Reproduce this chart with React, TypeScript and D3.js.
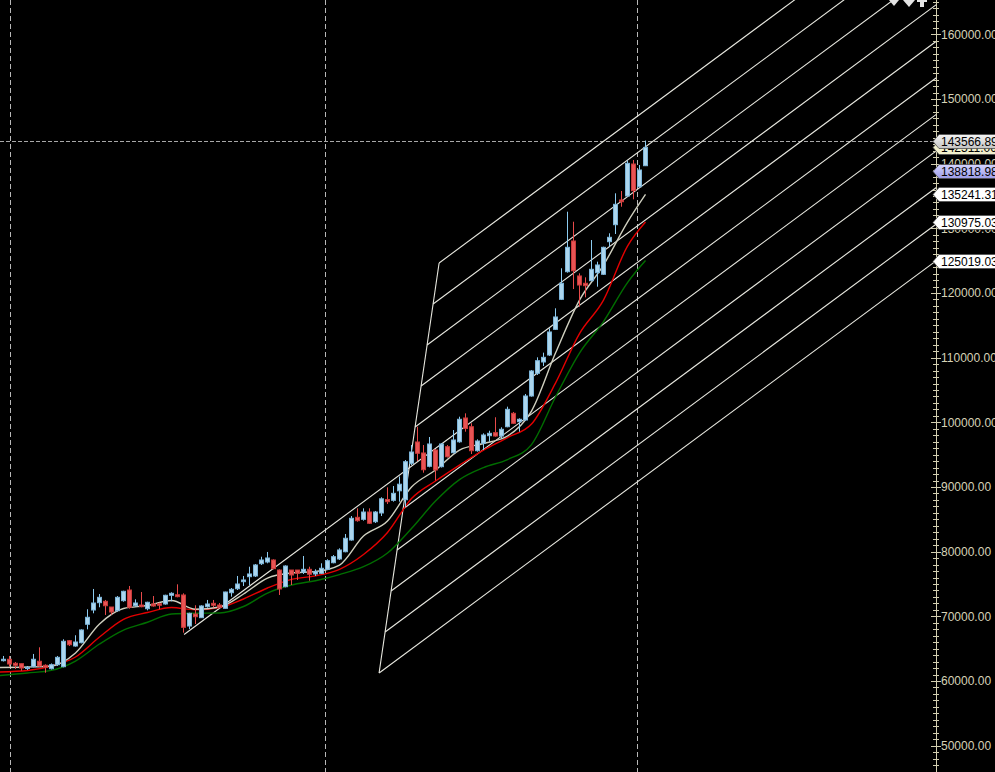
import React, { useEffect } from 'react';
import * as d3 from 'd3';

const W = 995;
const H = 772;

// ---- candle data (bar index 0..107) ----
const opens = [
  63140, 63360, 62740, 62680, 61930, 62210, 63050, 62430, 61900, 62520,
  62210, 66230, 65410, 65920, 68770, 70980, 72110, 72320, 71440, 70870,
  72420, 74070, 71640, 71750, 71180, 71910, 71950, 71910, 73250, 73340,
  73300, 68500, 70360, 69790, 71490, 72010, 71750, 71240, 73650, 74270,
  75360, 76130, 76240, 78140, 78400, 78710, 77160, 74580, 77160, 77160,
  76850, 77270, 76550, 76650, 77270, 78290, 78870, 79990, 81800, 85310,
  85000, 86130, 84630, 85980, 88070, 87940, 89410, 88030, 93660, 96960,
  95260, 93200, 95720, 93140, 96230, 95300, 96990, 100670, 99320, 95610,
  96760, 97930, 98400, 97880, 99320, 101390, 100100, 100360, 104070, 107580,
  109330, 110410, 114380, 119020, 123290, 128040, 122630, 121500, 121900, 123140,
  122890, 127930, 130560, 134380, 135000, 139940, 136430, 139680,
];
const highs = [
  63870, 63870, 62940, 62700, 62320, 64180, 65210, 62580, 62710, 63870,
  66450, 66340, 67070, 67990, 71090, 74230, 73450, 72530, 71440, 73140,
  73960, 74690, 72630, 73760, 72260, 73140, 72110, 73340, 73720, 74950,
  73560, 70560, 71710, 71710, 72530, 72530, 72060, 73810, 74380, 76240,
  76240, 77670, 78090, 79220, 79950, 78820, 77270, 77890, 77160, 77160,
  79330, 77670, 77270, 78200, 78820, 79480, 80520, 82730, 85510, 86700,
  86700, 86700, 86290, 88410, 89950, 90150, 91620, 94170, 96490, 99320,
  96490, 97730, 95870, 96800, 96490, 98810, 100870, 101390, 99850, 97370,
  98300, 98700, 100780, 99230, 102420, 101600, 100620, 104380, 108090, 110050,
  110770, 114540, 117630, 123820, 132570, 131020, 123040, 122420, 128190, 124840,
  127160, 129230, 135410, 135770, 140450, 140560, 139790, 143567,
];
const lows = [
  63020, 62210, 61860, 61590, 61700, 62120, 62210, 61280, 61780, 62320,
  62120, 65410, 65300, 65830, 67990, 70470, 71400, 70210, 70250, 70720,
  72260, 71180, 71490, 71400, 70930, 71490, 71090, 71800, 72320, 72940,
  67470, 68040, 68810, 69740, 71330, 71400, 71290, 71210, 73040, 74070,
  74690, 74800, 76080, 77940, 78200, 77270, 73300, 74490, 74840, 75620,
  76550, 75510, 76240, 76550, 77160, 78200, 78710, 79900, 81690, 84630,
  84790, 84280, 84430, 85510, 87370, 87730, 87730, 86910, 93400, 94020,
  92210, 93040, 91000, 93010, 94560, 95210, 96850, 98550, 95100, 95460,
  95720, 97000, 97780, 97530, 99230, 99740, 98550, 100200, 103960, 107320,
  108710, 110260, 114280, 118910, 123140, 120610, 117880, 119330, 121810, 120970,
  122780, 127160, 129120, 133340, 134890, 134490, 136340, 139630,
];
const closes = [
  63360, 62630, 62430, 62010, 62090, 63360, 62320, 62120, 62520, 63660,
  66140, 65610, 66030, 67890, 69850, 72060, 72940, 71640, 70670, 72940,
  73870, 71400, 72060, 71490, 72170, 71600, 71710, 73250, 73560, 73040,
  68300, 70470, 69940, 71600, 71910, 71710, 71400, 73760, 74180, 75000,
  75620, 76550, 77940, 78710, 79020, 77370, 74230, 77780, 76390, 76650,
  77270, 76500, 76900, 77430, 78600, 79220, 80260, 82070, 85160, 84790,
  86130, 84390, 86130, 88170, 87730, 89020, 90430, 93910, 95410, 95210,
  92670, 96650, 92630, 96650, 94680, 97270, 100470, 99040, 95610, 97110,
  98040, 98300, 97880, 98920, 102010, 99850, 100470, 104070, 107940, 109530,
  110050, 113970, 116290, 121500, 127060, 123440, 121230, 121130, 123660, 124330,
  127060, 128610, 133710, 134110, 140050, 135820, 139020, 142511,
];

// ---- moving averages, read at these bar indices ----
const maIdx = [-0.6, 4, 8, 12, 16, 20, 24, 28, 32, 36, 40, 44, 48, 52, 56, 60, 64, 68, 72, 76, 80, 84, 88, 92, 96, 100, 104, 107];
const maFast = [62090, 62160, 62320, 64330, 68810, 71210, 71670, 72450, 71090, 71440, 73450, 75920, 76700, 76930, 77930, 82420, 84740, 89990, 92620, 95710, 96720, 97880, 101740, 110710, 118900, 124310, 130960, 135241.31];
const maMid = [61390, 61620, 62320, 63710, 66800, 69540, 70590, 71360, 71010, 71360, 72680, 74380, 75720, 76260, 77270, 79560, 82960, 88210, 90920, 93390, 95710, 97650, 99730, 106070, 113720, 118900, 127250, 130975.03];
const maSlow = [60850, 61240, 61650, 63090, 65720, 67880, 69080, 70360, 70480, 70510, 71520, 73600, 74840, 75510, 76460, 77670, 79790, 83580, 87830, 91150, 93010, 94240, 96560, 103910, 110710, 115580, 121610, 125019.03];

// ---- axis ----
const yTicks = [50000, 60000, 70000, 80000, 90000, 100000, 110000, 120000, 130000, 140000, 150000, 160000];
const tagValues = [125019.03, 130975.03, 135241.31, 138818.98, 142511.06, 143566.89];
const tagColors = ['#ffffff', '#ffffff', '#ffffff', '#b4b4f4', '#f2f0cc', '#dcdcdc'];

// ---- separators / price line ----
const periodSeparators = [1.15, 53.5, 105.5];
const bidPrice = 143566.89;

// ---- channel (fork) tool ----
const forkLowIdx = 62.6;
const forkLowPrice = 61240;
const forkStepIdx = 1.0;
const forkStepPrice = 6340;
const forkCount = 11;
const forkSlope = 686.6; // price per bar
const medianLine = 5;
const medianStartIdx = 30.1;

export default function App() {
  useEffect(() => {
    document.body.style.margin = '0';
    document.body.style.background = '#000';
    document.body.style.overflow = 'hidden';
  }, []);

  const plotRight = 936;
  const x = d3.scaleLinear().domain([0, 107]).range([3.5, 645.5]);
  const y = d3.scaleLinear().domain([60000, 160000]).range([681, 34.3]);
  const idxRight = x.invert(plotRight + 5);

  const makeLine = (vals: number[]) =>
    d3
      .line<number>()
      .x((_, j) => x(maIdx[j]))
      .y((d) => y(d))
      .curve(d3.curveMonotoneX)(vals) || '';

  const forkLines = d3.range(forkCount).map((k) => {
    const i0 = forkLowIdx + k * forkStepIdx;
    const v0 = forkLowPrice + k * forkStepPrice;
    const iStart = k === medianLine ? medianStartIdx : i0;
    const vStart = v0 + forkSlope * (iStart - i0);
    const vEnd = v0 + forkSlope * (idxRight - i0);
    return { x1: x(iStart), y1: y(vStart), x2: x(idxRight), y2: y(vEnd) };
  });
  const baseTop = forkLowIdx + (forkCount - 1) * forkStepIdx;
  const baseTopPrice = forkLowPrice + (forkCount - 1) * forkStepPrice;

  const minorTicks = d3.range(45000, 166000, 1000);
  const font = '"Liberation Sans", Arial, sans-serif';

  return (
    <svg
      width={W}
      height={H}
      style={{ position: 'absolute', left: 0, top: 0, background: '#000', display: 'block' }}
    >
      <defs>
        <clipPath id="plot">
          <rect x={0} y={0} width={plotRight} height={H} />
        </clipPath>
        <linearGradient id="gGrey" x1="0" y1="0" x2="0" y2="1">
          <stop offset="0" stopColor="#f4f4f4" />
          <stop offset="1" stopColor="#c4c4c4" />
        </linearGradient>
        <linearGradient id="gLav" x1="0" y1="0" x2="0" y2="1">
          <stop offset="0" stopColor="#d4d4ff" />
          <stop offset="1" stopColor="#9c9ce8" />
        </linearGradient>
      </defs>
      <rect x={0} y={0} width={W} height={H} fill="#000" />

      <g clipPath="url(#plot)">
        {periodSeparators.map((p, i) => (
          <line
            key={'vs' + i}
            x1={Math.round(x(p)) + 0.5}
            x2={Math.round(x(p)) + 0.5}
            y1={0}
            y2={H}
            stroke="#b8b8b8"
            strokeDasharray="5,3"
          />
        ))}
        <line
          x1={0}
          x2={plotRight}
          y1={Math.round(y(bidPrice)) + 0.5}
          y2={Math.round(y(bidPrice)) + 0.5}
          stroke="#a8a8a8"
          strokeDasharray="4,2"
        />

        {/* channel tool */}
        <line
          x1={x(forkLowIdx)}
          y1={y(forkLowPrice)}
          x2={x(baseTop)}
          y2={y(baseTopPrice)}
          stroke="#e8e8e0"
          strokeWidth={1.1}
        />
        {forkLines.map((l, k) => (
          <line key={'f' + k} {...l} stroke="#e8e8e0" strokeWidth={1.1} />
        ))}

        {/* moving averages */}
        <path d={makeLine(maSlow)} fill="none" stroke="#006e00" strokeWidth={1.4} />
        <path d={makeLine(maMid)} fill="none" stroke="#e40000" strokeWidth={1.4} />
        <path d={makeLine(maFast)} fill="none" stroke="#cfcfbf" strokeWidth={1.4} />

        {/* candles */}
        {opens.map((o, i) => {
          const c = closes[i];
          const up = c >= o;
          const cx = x(i);
          const top = y(Math.max(o, c));
          const bot = y(Math.min(o, c));
          return (
            <g key={'c' + i}>
              <line
                x1={cx}
                x2={cx}
                y1={y(highs[i])}
                y2={y(lows[i])}
                stroke={up ? '#8ccbf0' : '#e84a4a'}
                strokeWidth={1}
              />
              <rect
                x={cx - 2}
                y={top}
                width={4}
                height={Math.max(1, bot - top)}
                fill={up ? '#acd6ee' : '#e85454'}
                stroke={up ? '#7cb4d8' : '#c83a3a'}
                strokeWidth={1}
              />
            </g>
          );
        })}
      </g>

      {/* right price axis */}
      <line x1={plotRight + 0.5} x2={plotRight + 0.5} y1={0} y2={H} stroke="#d2ceb0" />
      {minorTicks.map((t) => {
        const yy = Math.round(y(t)) + 0.5;
        const major = t % 10000 === 0;
        return (
          <line
            key={'mt' + t}
            x1={major ? plotRight - 5 : plotRight - 3}
            x2={major ? plotRight + 5 : plotRight + 3}
            y1={yy}
            y2={yy}
            stroke="#d2ceb0"
          />
        );
      })}
      {yTicks.map((t) => (
        <text
          key={'yl' + t}
          x={941}
          y={y(t)}
          dy="0.36em"
          fill="#d6d2b6"
          fontSize={12}
          fontFamily={font}
        >
          {d3.format('.2f')(t)}
        </text>
      ))}

      {/* price tags */}
      {tagValues.map((v, i) => {
        const yc = Math.round(y(v)) + 0.5;
        const h = 7;
        const fill = tagColors[i] === '#dcdcdc' ? 'url(#gGrey)' : tagColors[i] === '#b4b4f4' ? 'url(#gLav)' : tagColors[i];
        return (
          <g key={'tag' + i}>
            <polygon
              points={`${plotRight - 3},${yc} ${plotRight + 3},${yc - h} ${W + 2},${yc - h} ${W + 2},${yc + h} ${plotRight + 3},${yc + h}`}
              fill={fill}
              stroke="#505050"
              strokeWidth={0.8}
            />
            <text x={941} y={yc} dy="0.36em" fill="#000" fontSize={12} fontFamily={font}>
              {d3.format('.2f')(v)}
            </text>
          </g>
        );
      })}

      {/* small chart-shift markers at the top */}
      <g fill="#e4e4e4">
        <polygon points="889,0 899,0 894,6" />
        <polygon points="903,0 915,0 909,7" />
        <rect x={920} y={0} width={4} height={7} />
        <rect x={917} y={0} width={10} height={2} />
      </g>
    </svg>
  );
}
